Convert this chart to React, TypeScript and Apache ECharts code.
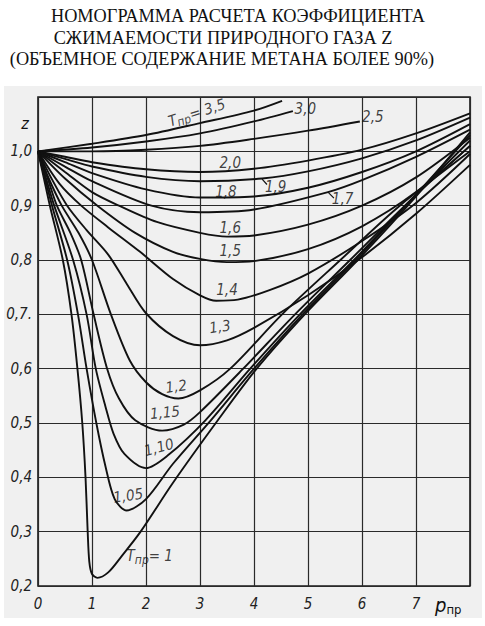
import { useEffect, useRef } from "react";
import * as echarts from "echarts";

const TITLE_LINES = [
  "НОМОГРАММА РАСЧЕТА КОЭФФИЦИЕНТА",
  "СЖИМАЕМОСТИ ПРИРОДНОГО ГАЗА Z",
  "(ОБЪЕМНОЕ СОДЕРЖАНИЕ МЕТАНА БОЛЕЕ 90%)",
];

const X_MIN = 0;
const X_MAX = 8;
const Y_MIN = 0.2;
const Y_MAX = 1.1;

// Curves z(p_пр) for each T_пр
const T350 = [[0, 1], [1, 1.014], [2, 1.03], [3, 1.052], [4, 1.075], [4.52, 1.093]];
const T300 = [[0, 1], [1, 1.007], [2, 1.018], [3, 1.033], [4, 1.055], [4.72, 1.074]];
const T250 = [[0, 1], [1, 1.0], [2, 1.003], [3, 1.01], [4, 1.023], [5, 1.038], [5.96, 1.055]];
const T200 = [[0, 1], [0.5, 0.99], [1, 0.98], [2, 0.967], [3, 0.962], [4, 0.968], [5, 0.983], [6, 1.003], [7, 1.033], [8, 1.07]];
const T190 = [[0, 1], [0.5, 0.986], [1, 0.972], [2, 0.953], [3, 0.945], [4.15, 0.95], [5, 0.963], [6, 0.987], [7, 1.02], [8, 1.062]];
const T180 = [[0, 1], [0.5, 0.98], [1, 0.96], [2, 0.93], [3, 0.915], [4, 0.917], [5, 0.933], [6, 0.962], [7, 1.0], [8, 1.05]];
const T170 = [[0, 1], [0.5, 0.972], [1, 0.945], [2.1, 0.9], [3, 0.888], [4, 0.893], [5.37, 0.925], [6, 0.947], [7, 0.99], [8, 1.04]];
const T160 = [[0, 1], [0.5, 0.962], [1, 0.925], [1.5, 0.9], [2.2, 0.87], [3, 0.85], [3.5, 0.843], [4, 0.845], [5, 0.865], [6, 0.9], [7, 0.952], [8, 1.025]];
const T150 = [[0, 1], [0.5, 0.95], [1.1, 0.9], [1.8, 0.85], [2.5, 0.815], [3, 0.802], [3.5, 0.796], [4, 0.798], [5, 0.82], [6, 0.862], [7, 0.925], [8, 1.01]];
const T140 = [[0, 1], [0.4, 0.94], [0.8, 0.9], [1.3, 0.86], [1.89, 0.815], [2.5, 0.765], [3, 0.735], [3.3, 0.725], [3.7, 0.727], [4.3, 0.745], [5, 0.775], [6, 0.835], [7, 0.905], [8, 0.995]];
const T130 = [[0, 1], [0.25, 0.95], [0.54, 0.9], [0.9, 0.855], [1.3, 0.81], [1.65, 0.755], [2.0, 0.702], [2.5, 0.66], [3, 0.643], [3.5, 0.652], [4, 0.675], [5, 0.735], [6, 0.805], [7, 0.885], [8, 0.975]];
const T120 = [[0, 1], [0.2, 0.95], [0.44, 0.9], [0.75, 0.85], [1.0, 0.8], [1.35, 0.7], [1.7, 0.615], [2.0, 0.575], [2.3, 0.553], [2.6, 0.545], [3, 0.56], [3.56, 0.6], [4.52, 0.7], [5.6, 0.8], [6.7, 0.9], [8, 1.0]];
const T115 = [[0, 1], [0.18, 0.95], [0.35, 0.9], [0.6, 0.85], [0.8, 0.8], [1.03, 0.7], [1.28, 0.6], [1.5, 0.545], [1.8, 0.505], [2.3, 0.486], [2.7, 0.497], [3.0, 0.52], [3.8, 0.6], [4.76, 0.7], [5.78, 0.8], [6.9, 0.91], [8, 1.01]];
const T110 = [[0, 1], [0.15, 0.95], [0.3, 0.9], [0.65, 0.8], [0.9, 0.7], [1.07, 0.6], [1.25, 0.53], [1.4, 0.48], [1.6, 0.443], [2.0, 0.417], [2.4, 0.44], [3.1, 0.505], [3.93, 0.6], [4.85, 0.7], [5.85, 0.8], [6.95, 0.915], [8, 1.02]];
const T105 = [[0, 1], [0.13, 0.95], [0.26, 0.9], [0.54, 0.8], [0.74, 0.7], [0.9, 0.6], [1.08, 0.5], [1.25, 0.42], [1.42, 0.36], [1.64, 0.339], [2.0, 0.36], [2.5, 0.425], [3.2, 0.505], [4.0, 0.6], [4.9, 0.7], [5.88, 0.8], [6.95, 0.915], [8, 1.03]];
const T100 = [[0, 1], [0.11, 0.95], [0.22, 0.9], [0.46, 0.8], [0.62, 0.7], [0.73, 0.6], [0.82, 0.5], [0.88, 0.4], [0.92, 0.3], [0.95, 0.245], [1.0, 0.222], [1.1, 0.215], [1.3, 0.225], [1.55, 0.255], [1.9, 0.3], [2.5, 0.39], [3.33, 0.505], [4.05, 0.6], [4.94, 0.7], [5.92, 0.8], [6.98, 0.915], [8, 1.035]];

const CURVES = [T350, T300, T250, T200, T190, T180, T170, T160, T150, T140, T130, T120, T115, T110, T105, T100];

// Curve labels [text, p, z, rotation]
const CURVE_LABELS: [string, number, number, number][] = [
  ["{t|T}{s|пр}{t|= 3,5}", 2.94, 1.071, 18],
  ["3,0", 4.95, 1.077, 0],
  ["2,5", 6.2, 1.064, 0],
  ["2,0", 3.56, 0.979, 0],
  ["1,9", 4.4, 0.935, 0],
  ["1,8", 3.48, 0.925, 0],
  ["1,7", 5.64, 0.912, 0],
  ["1,6", 3.56, 0.858, 0],
  ["1,5", 3.56, 0.817, 0],
  ["1,4", 3.5, 0.745, 0],
  ["1,3", 3.37, 0.677, 8],
  ["1,2", 2.56, 0.567, 8],
  ["1,15", 2.35, 0.519, 5],
  ["1,10", 2.24, 0.455, 15],
  ["1,05", 1.67, 0.366, 8],
  ["{t|T}{s|пр}{t|= 1}", 2.07, 0.255, 0],
];

const LEADER_19 = [[4.15, 0.949], [4.24, 0.939]];
const LEADER_17 = [[5.37, 0.925], [5.48, 0.914]];

const HAND = "Liberation Sans Narrow, DejaVu Sans Condensed, sans-serif";
const INK = "#111";

export default function App() {
  const ref = useRef<HTMLDivElement>(null);

  useEffect(() => {
    if (!ref.current) return;
    const chart = echarts.init(ref.current, undefined, { renderer: "svg" });

    const lineSeries = CURVES.map((pts) => ({
      type: "line",
      data: pts,
      showSymbol: false,
      smooth: 0.3,
      silent: true,
      z: 3,
      lineStyle: { color: INK, width: 1.9 },
    }));

    const leaderSeries = [LEADER_19, LEADER_17].map((pts) => ({
      type: "line",
      data: pts,
      showSymbol: false,
      silent: true,
      z: 3,
      lineStyle: { color: INK, width: 1.2 },
    }));

    const labelSeries = {
      type: "scatter",
      symbolSize: 1,
      itemStyle: { color: "rgba(0,0,0,0)" },
      silent: true,
      z: 5,
      data: CURVE_LABELS.map(([text, x, y, rot]) => ({
        value: [x, y],
        name: text,
        label: { rotate: rot },
      })),
      label: {
        show: true,
        position: "inside",
        formatter: (p: any) => p.name,
        color: INK,
        fontFamily: HAND,
        fontStyle: "italic",
        fontSize: 15,
        rich: {
          t: { fontFamily: HAND, fontStyle: "italic", fontSize: 15, color: INK },
          s: { fontFamily: HAND, fontStyle: "italic", fontSize: 12, color: INK, padding: [7, 0, 0, 0] },
        },
      },
    };

    chart.setOption({
      animation: false,
      backgroundColor: "#ffffff",
      grid: {
        left: 38,
        right: 15,
        top: 97,
        bottom: 40,
        show: true,
        borderColor: "#1a1a1a",
        borderWidth: 1.6,
      },
      xAxis: {
        type: "value",
        min: X_MIN,
        max: X_MAX,
        interval: 1,
        axisLine: { show: false },
        axisTick: { show: false },
        splitLine: { show: true, lineStyle: { color: "#2a2a2a", width: 1.2 } },
        axisLabel: {
          margin: 10,
          color: "#222",
          fontFamily: HAND,
          fontStyle: "italic",
          fontSize: 15,
          formatter: (v: number) => (v === X_MAX ? "" : String(v)),
        },
      },
      yAxis: {
        type: "value",
        min: Y_MIN,
        max: Y_MAX,
        interval: 0.1,
        axisLine: { show: false },
        axisTick: { show: false },
        splitLine: { show: true, lineStyle: { color: "#2a2a2a", width: 1.2 } },
        axisLabel: {
          margin: 6,
          color: "#222",
          fontFamily: HAND,
          fontStyle: "italic",
          fontSize: 15,
          formatter: (v: number) => {
            if (Math.abs(v - Y_MAX) < 1e-6) return "";
            let s = v.toFixed(1).replace(".", ",");
            if (Math.abs(v - 0.7) < 1e-6) s += ".";
            return s;
          },
        },
      },
      graphic: [
        {
          type: "rect",
          z: -100,
          silent: true,
          shape: { x: 4, y: 86, width: 478, height: 532 },
          style: { fill: "#f0f0f0" },
        },
        ...TITLE_LINES.map((t, i) => ({
          type: "text",
          silent: true,
          x: [238, 223, 222][i],
          y: [16, 38, 59][i],
          style: {
            text: t,
            fill: INK,
            font: "18.3px Liberation Serif, DejaVu Serif, serif",
            align: "center",
            verticalAlign: "middle",
          },
        })),
        {
          type: "text",
          silent: true,
          x: 25,
          y: 123,
          style: {
            text: "z",
            fill: INK,
            font: "italic 16px " + HAND,
            align: "center",
            verticalAlign: "middle",
          },
        },
        {
          type: "text",
          silent: true,
          x: 435,
          y: 605,
          style: {
            text: "{p|p}{s|пр}",
            fill: INK,
            verticalAlign: "middle",
            rich: {
              p: { fontFamily: HAND, fontStyle: "italic", fontSize: 20, fill: INK },
              s: { fontFamily: HAND, fontSize: 13, fill: INK, padding: [8, 0, 0, 0] },
            },
          },
        },
      ],
      series: [...lineSeries, ...leaderSeries, labelSeries],
    });

    return () => chart.dispose();
  }, []);

  return (
    <div
      ref={ref}
      style={{ position: "fixed", left: 0, top: 0, width: 485, height: 626 }}
    />
  );
}
